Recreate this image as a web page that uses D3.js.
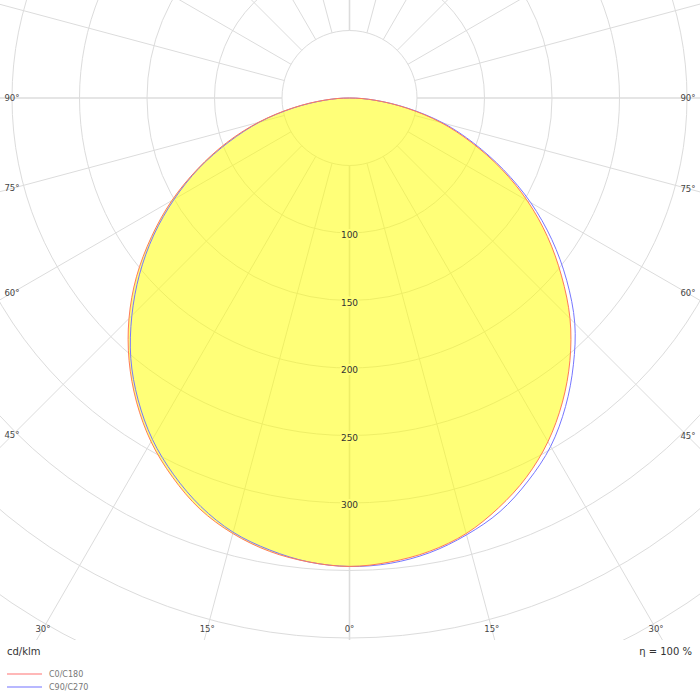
<!DOCTYPE html>
<html>
<head>
<meta charset="utf-8">
<script src="https://cdn.jsdelivr.net/npm/d3@7"></script>
<style>
  body { margin: 0; background: #fff; }
  text { font-family: "DejaVu Sans", sans-serif; }
</style>
</head>
<body>
<div id="chart"></div>
<script>
// gamma angles (deg) and intensities in cd/klm
const gammas = [0, 5, 10, 15, 20, 25, 30, 35, 40, 45, 50, 55, 60, 65, 70, 75, 80, 85, 90];
const c0   = [347, 345, 341, 334, 323, 310, 294, 275, 254, 231, 205, 179, 152, 124, 96, 70, 43, 19, 0];
const c180 = [347, 345, 341, 334, 324, 310, 294, 275, 254, 231, 206, 179, 152, 124, 97, 70, 43, 19, 0];
const c90  = [347, 346, 342, 335, 326, 313, 298, 279, 258, 236, 210, 183, 155, 126, 98, 72, 44, 19, 0];
const c270 = [347, 345, 340, 333, 322, 308, 292, 273, 252, 228, 203, 177, 150, 123, 95, 69, 42, 18, 0];

const ringValues = [50, 100, 150, 200, 250, 300, 350, 400, 450, 500];
const ringLabels = [100, 150, 200, 250, 300];
const angleTicks = [0, 15, 30, 45, 60, 75, 90];
const seriesNames = ["C0/C180", "C90/C270"];
const unitLabel = "cd/klm";
const effLabel = "η = 100 %";

const width = 700, height = 700;
const cx = 349.5, cy = 98;
const plotBottom = 640;

const r = d3.scaleLinear().domain([0, 400]).range([0, 540]);

const svg = d3.select("#chart")
    .append("svg")
    .attr("width", width)
    .attr("height", height);

svg.append("defs").append("clipPath")
    .attr("id", "plotclip")
    .append("rect")
    .attr("x", 0).attr("y", 0)
    .attr("width", width).attr("height", plotBottom);

const plot = svg.append("g").attr("clip-path", "url(#plotclip)");
const g = plot.append("g").attr("transform", `translate(${cx},${cy})`);

// grid circles
g.append("g")
    .selectAll("circle")
    .data(ringValues)
    .join("circle")
    .attr("r", d => r(d))
    .attr("fill", "none")
    .attr("stroke", "#dcdcdc")
    .attr("stroke-width", 1);

// rays every 15 deg, starting at the 50 ring
const rays = d3.range(0, 360, 15);
g.append("g")
    .selectAll("line")
    .data(rays)
    .join("line")
    .attr("x1", d => r(50) * Math.sin(d * Math.PI / 180))
    .attr("y1", d => r(50) * Math.cos(d * Math.PI / 180))
    .attr("x2", d => 1000 * Math.sin(d * Math.PI / 180))
    .attr("y2", d => 1000 * Math.cos(d * Math.PI / 180))
    .attr("stroke", "#dcdcdc")
    .attr("stroke-width", d => d % 90 === 0 ? 1.6 : 1);

// label backgrounds cut the 0 deg line
g.append("g")
    .selectAll("rect")
    .data(ringLabels)
    .join("rect")
    .attr("x", -9)
    .attr("y", d => r(d) - 4)
    .attr("width", 18).attr("height", 11)
    .attr("fill", "#fff");

// curves: right half uses the first C plane, left half the opposite one
function halfPoints(right, left) {
    const pts = [];
    gammas.forEach((gm, i) => pts.push([Math.PI - gm * Math.PI / 180, r(right[i])]));
    for (let i = gammas.length - 2; i >= 1; i--) {
        pts.push([Math.PI + gammas[i] * Math.PI / 180, r(left[i])]);
    }
    return pts;
}

const radial = d3.lineRadial()
    .angle(d => d[0])
    .radius(d => d[1])
    .curve(d3.curveCatmullRomClosed.alpha(0.5));

const redPts = halfPoints(c0, c180);
const bluePts = halfPoints(c90, c270);

g.append("path")
    .attr("d", radial(redPts))
    .attr("fill", "#ffff00")
    .attr("fill-opacity", 0.53)
    .attr("stroke", "none");

g.append("path")
    .attr("d", radial(bluePts))
    .attr("fill", "none")
    .attr("stroke", "#7676ff")
    .attr("stroke-width", 1);

g.append("path")
    .attr("d", radial(redPts))
    .attr("fill", "none")
    .attr("stroke", "#ff7a5a")
    .attr("stroke-width", 1);

// ring labels on top of the fill
g.append("g")
    .selectAll("text")
    .data(ringLabels)
    .join("text")
    .attr("y", d => r(d) + 2)
    .attr("text-anchor", "middle")
    .attr("dy", "0.35em")
    .attr("font-size", 9)
    .attr("fill", "#333")
    .text(d => d);

// angle labels at the frame edges
const leftX = 12, rightX = 688, bottomY = 629;
const angleLabels = [];
angleTicks.forEach(a => {
    const rad = a * Math.PI / 180;
    [-1, 1].forEach(side => {
        if (a === 0 && side === 1) return;
        const s = Math.sin(rad), c = Math.cos(rad);
        const edgeX = side < 0 ? cx - leftX : rightX - cx;
        const tx = s > 0 ? edgeX / s : Infinity;
        const ty = c > 1e-6 ? (bottomY - cy) / c : Infinity;
        const t = Math.min(tx, ty);
        angleLabels.push({ a, x: cx + side * t * s, y: cy + t * c });
    });
});

svg.append("g")
    .selectAll("text")
    .data(angleLabels)
    .join("text")
    .attr("x", d => d.x)
    .attr("y", d => d.y)
    .attr("text-anchor", "middle")
    .attr("dy", "0.35em")
    .attr("font-size", 8.5)
    .attr("fill", "#444")
    .text(d => d.a + "°");

// unit and efficiency
svg.append("text")
    .attr("x", 7).attr("y", 655)
    .attr("font-size", 10)
    .attr("fill", "#333")
    .text(unitLabel);

svg.append("text")
    .attr("x", 692).attr("y", 655)
    .attr("text-anchor", "end")
    .attr("font-size", 10)
    .attr("fill", "#333")
    .text(effLabel);

// legend
const legendColors = ["#ffb8b8", "#b8b8ff"];
const leg = svg.append("g")
    .selectAll("g")
    .data(seriesNames)
    .join("g")
    .attr("transform", (d, i) => `translate(7,${674 + i * 13})`);
leg.append("line")
    .attr("x1", 0).attr("x2", 35)
    .attr("stroke", (d, i) => legendColors[i])
    .attr("stroke-width", 2);
leg.append("text")
    .attr("x", 42)
    .attr("dy", "0.35em")
    .attr("font-size", 8)
    .attr("fill", "#777")
    .text(d => d);
</script>
</body>
</html>
